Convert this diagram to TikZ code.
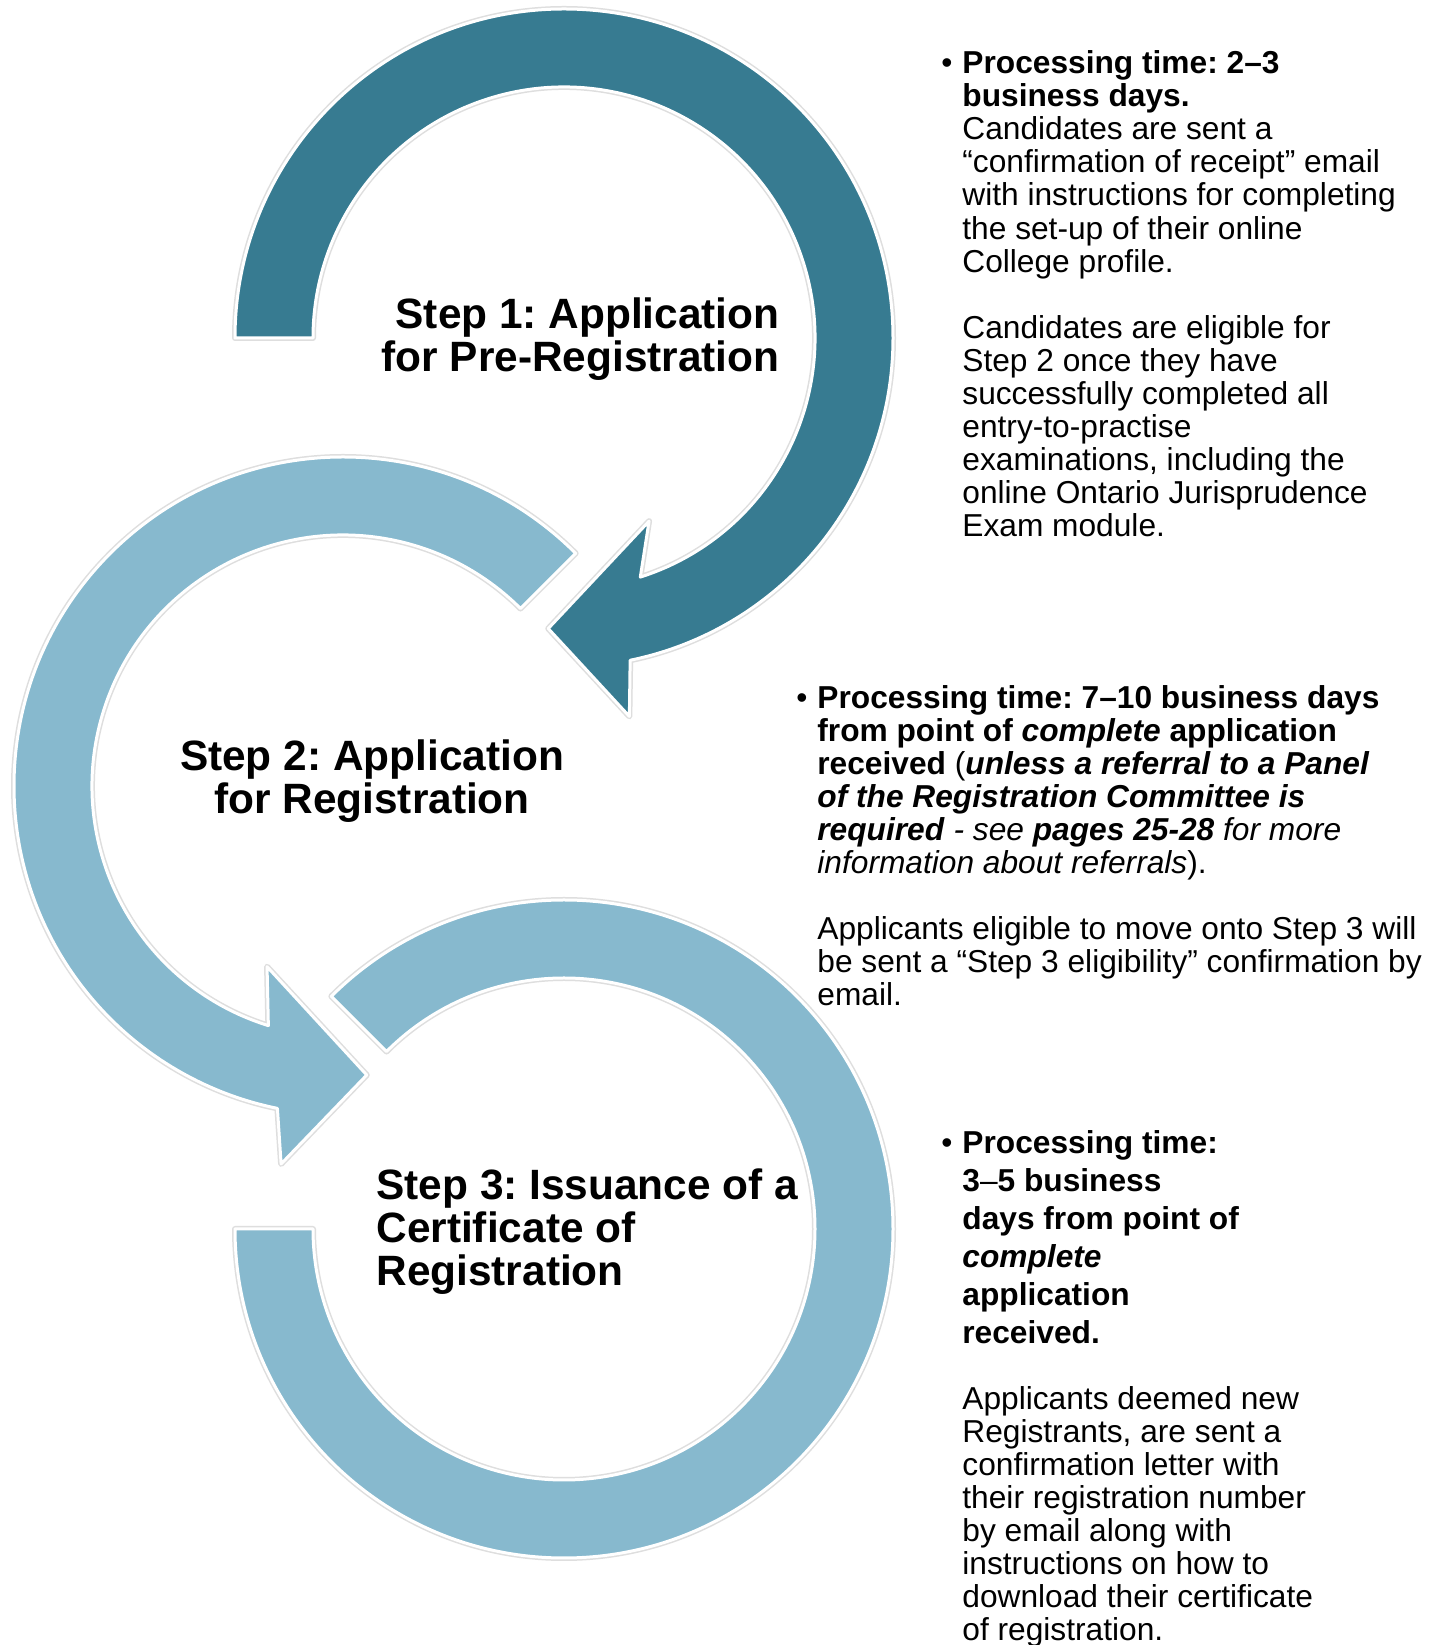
\documentclass[tikz,border=0pt]{standalone}
\usepackage{fontspec}
\setmainfont{Liberation Sans}
\usetikzlibrary{positioning}
\definecolor{darkteal}{RGB}{55,123,145}
\definecolor{paleblue}{RGB}{135,185,206}
\frenchspacing

\begin{document}
\begin{tikzpicture}[x=0.5pt, y=0.5pt, line join=round,
    ring/.style={draw=white, line width=1.5pt, preaction={draw=black!13, line width=3pt}},
    steplabel/.style={inner sep=0pt, font=\bfseries\fontsize{21.2}{21.5}\selectfont},
    info/.style={inner sep=0pt, align=left, anchor=base west, font=\fontsize{15.85}{16.55}\selectfont}]
    \useasboundingbox[fill=white] (0,0) rectangle (1440,1645);

    \fill[paleblue, ring, shift={(564,416)}] (180:329) arc[start angle=180, end angle=495, radius=329]
        -- (495:251) arc[start angle=495, end angle=180, radius=251] -- cycle;
    \fill[paleblue, ring, shift={(343,859)}] (45:329) arc[start angle=45, end angle=258.5, radius=329]
        -- (260.7:383) -- (274.7:290) -- (247.2:196) -- (252.7:251)
        arc[start angle=252.7, end angle=45, radius=251] -- cycle;
    \fill[darkteal, ring, shift={(564,1307)}] (180:329) arc[start angle=180, end angle=-78.4, radius=329]
        -- (-80.2:384) -- (-93.1:291) -- (-65.1:202) -- (-72.3:251)
        arc[start angle=-72.3, end angle=180, radius=251] -- cycle;

    \node[steplabel, align=right, anchor=base east] (s1) at (780,1273) {Step 1: Application\\for Pre-Registration};
    \node[steplabel, align=center, anchor=base] (s2) at (372,831) {Step 2: Application\\for Registration};
    \node[steplabel, align=left, anchor=base west] (s3) at (376,359) {Step 3: Issuance of a\\Certificate of\\Registration};

    \node[info] (t1) at (962,1108) {\llap{•\hspace{5pt}}\textbf{Processing time: 2–3}\\
        \textbf{business days.}\\
        Candidates are sent a\\
        “confirmation of receipt” email\\
        with instructions for completing\\
        the set-up of their online\\
        College profile.\\[16.55pt]
        Candidates are eligible for\\
        Step 2 once they have\\
        successfully completed all\\
        entry-to-practise\\
        examinations, including the\\
        online Ontario Jurisprudence\\
        Exam module.};
    \node[info] (t2) at (817,639) {\llap{•\hspace{5pt}}\textbf{Processing time: 7–10 business days}\\
        \textbf{from point of \textit{complete} application}\\
        \textbf{received} (\textbf{\textit{unless a referral to a Panel}}\\
        \textbf{\textit{of the Registration Committee is}}\\
        \textbf{\textit{required}} \textit{- see} \textbf{\textit{pages 25-28}} \textit{for more}\\
        \textit{information about referrals}).\\[16.55pt]
        Applicants eligible to move onto Step 3 will\\
        be sent a “Step 3 eligibility” confirmation by\\
        email.};
    \node[info] (t3) at (962,4) {\llap{•\hspace{5pt}}\textbf{Processing time:}\\[2.45pt]
        \textbf{3}–\textbf{5 business}\\[2.45pt]
        \textbf{days from point of}\\[2.45pt]
        \textbf{\textit{complete}}\\[2.45pt]
        \textbf{application}\\[2.45pt]
        \textbf{received.}\\[16.5pt]
        Applicants deemed new\\
        Registrants, are sent a\\
        confirmation letter with\\
        their registration number\\
        by email along with\\
        instructions on how to\\
        download their certificate\\
        of registration.};
\end{tikzpicture}
\end{document}
